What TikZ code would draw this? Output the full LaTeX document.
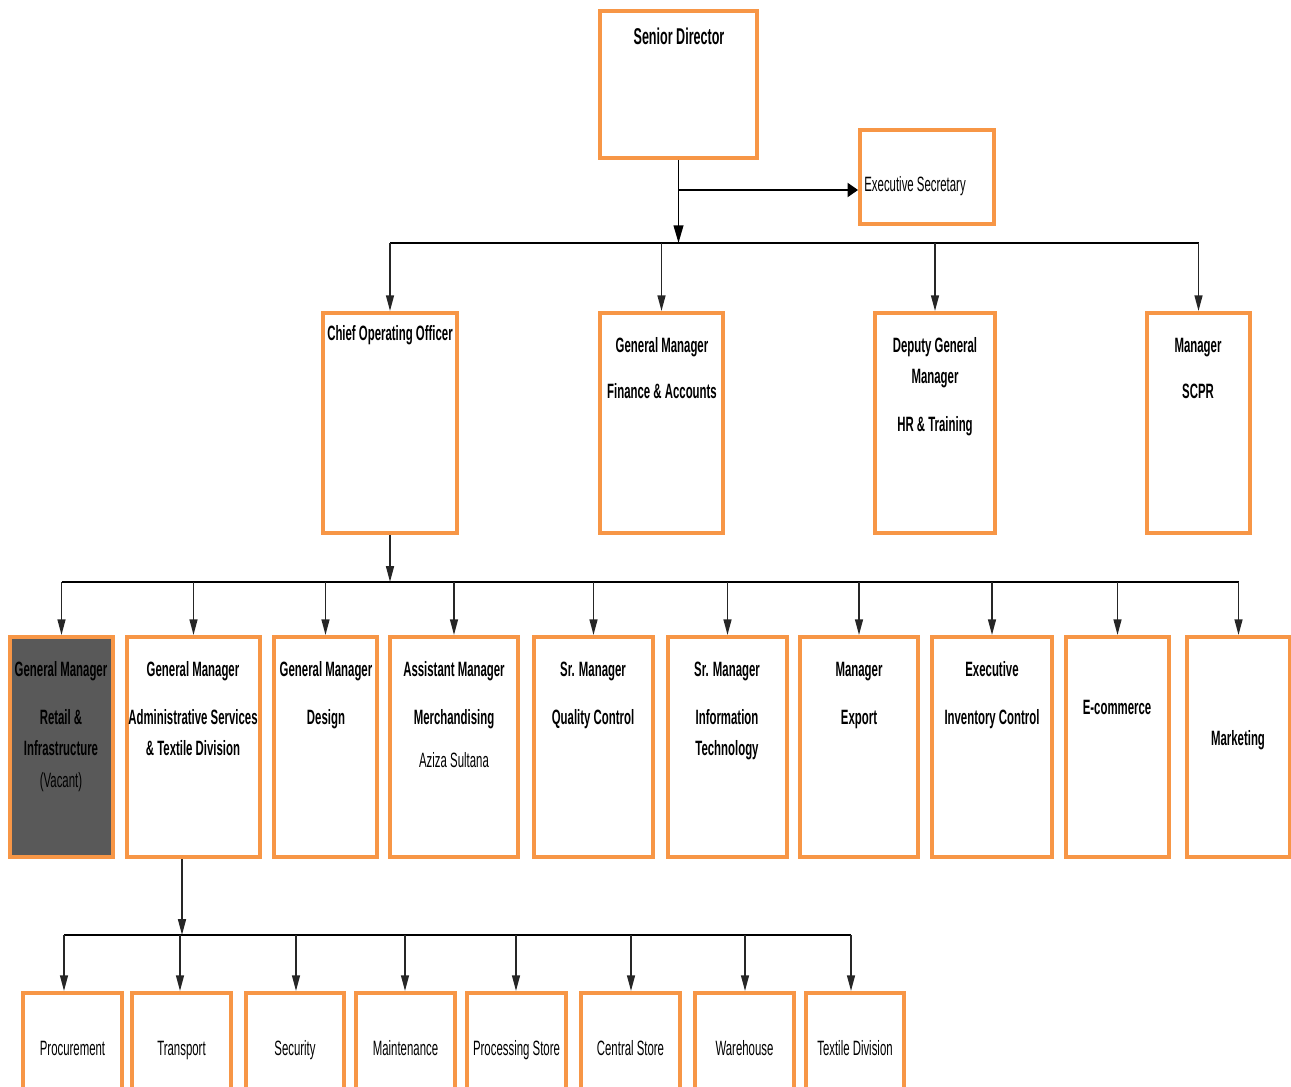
\documentclass[tikz,border=0pt]{standalone}
\usepackage{fontspec}
\setmainfont[FakeStretch=0.55]{Liberation Sans}
\usetikzlibrary{arrows.meta,fit}
\definecolor{borange}{HTML}{F79646}
\definecolor{darkbox}{HTML}{595959}
\begin{document}
\begin{tikzpicture}[x=0.02cm,y=-0.02cm,
  box/.style={draw=borange, line width=2.2pt, fill=white, inner sep=0pt},
  darkb/.style={box, fill=darkbox},
  lbl/.style={inner sep=0pt, yshift=-1.6pt, text height=0.75em, text depth=0.2em, font=\fontsize{11.8}{14}\selectfont\bfseries},
  lblr/.style={lbl, font=\fontsize{11.8}{14}\selectfont},
  bus/.style={line width=1.7pt, black},
  drop/.style={line width=1pt, black!85, -{Triangle[length=9pt,width=4.5pt]}},
]
\useasboundingbox (0,0) rectangle (1291,1087);
\clip (0,0) rectangle (1291,1087);
% ---------- boxes ----------
\node[box, fit={(600,11) (757,158)}] (sd) {};
\node[box, fit={(860,130) (994,224)}] (es) {};
\node[box, fit={(323,313) (457,533)}] (coo) {};
\node[box, fit={(600,313) (723,533)}] (gmf) {};
\node[box, fit={(875,313) (995,533)}] (dgm) {};
\node[box, fit={(1147,313) (1250,533)}] (scpr) {};
\node[darkb, fit={(10,637) (113,857)}] (r1) {};
\node[box, fit={(127,637) (260,857)}] (r2) {};
\node[box, fit={(274,637) (377,857)}] (r3) {};
\node[box, fit={(390,637) (518,857)}] (r4) {};
\node[box, fit={(534,637) (653,857)}] (r5) {};
\node[box, fit={(668,637) (787,857)}] (r6) {};
\node[box, fit={(800,637) (918,857)}] (r7) {};
\node[box, fit={(932,637) (1052,857)}] (r8) {};
\node[box, fit={(1066,637) (1169,857)}] (r9) {};
\node[box, fit={(1187,637) (1290,857)}] (r10) {};
\node[box, fit={(23,993) (122,1100)}] (p1) {};
\node[box, fit={(132,993) (231,1100)}] (p2) {};
\node[box, fit={(246,993) (344,1100)}] (p3) {};
\node[box, fit={(356,993) (455,1100)}] (p4) {};
\node[box, fit={(467,993) (566,1100)}] (p5) {};
\node[box, fit={(581,993) (680,1100)}] (p6) {};
\node[box, fit={(695,993) (794,1100)}] (p7) {};
\node[box, fit={(806,993) (904,1100)}] (p8) {};
% ---------- texts ----------
\node[lbl, font=\fontsize{13}{15}\selectfont\bfseries] (sd-t) at (679,37) {Senior Director};
\node[lblr, anchor=west] (es-t) at (864,184) {Executive Secretary};
\node[lbl] (coo-t) at (390,333) {Chief Operating Officer};
\node[lbl] (gmf-t1) at (662,345) {General Manager};
\node[lbl] (gmf-t2) at (662,391) {Finance \& Accounts};
\node[lbl] (dgm-t1) at (935,345) {Deputy General};
\node[lbl] (dgm-t2) at (935,376) {Manager};
\node[lbl] (dgm-t3) at (935,424) {HR \& Training};
\node[lbl] (scpr-t1) at (1198,345) {Manager};
\node[lbl] (scpr-t2) at (1198,391) {SCPR};
\node[lbl] (r1-t1) at (61,669) {General Manager};
\node[lbl] (r1-t2) at (61,717) {Retail \&};
\node[lbl] (r1-t3) at (61,748) {Infrastructure};
\node[lblr, text=black] (r1-t4) at (61,780) {(Vacant)};
\node[lbl] (r2-t1) at (193,669) {General Manager};
\node[lbl] (r2-t2) at (193,717) {Administrative Services};
\node[lbl] (r2-t3) at (193,748) {\& Textile Division};
\node[lbl] (r3-t1) at (326,669) {General Manager};
\node[lbl] (r3-t2) at (326,717) {Design};
\node[lbl] (r4-t1) at (454,669) {Assistant Manager};
\node[lbl] (r4-t2) at (454,717) {Merchandising};
\node[lblr] (r4-t3) at (454,760) {Aziza Sultana};
\node[lbl] (r5-t1) at (593,669) {Sr. Manager};
\node[lbl] (r5-t2) at (593,717) {Quality Control};
\node[lbl] (r6-t1) at (727,669) {Sr. Manager};
\node[lbl] (r6-t2) at (727,717) {Information};
\node[lbl] (r6-t3) at (727,748) {Technology};
\node[lbl] (r7-t1) at (859,669) {Manager};
\node[lbl] (r7-t2) at (859,717) {Export};
\node[lbl] (r8-t1) at (992,669) {Executive};
\node[lbl] (r8-t2) at (992,717) {Inventory Control};
\node[lbl] (r9-t1) at (1117,707) {E-commerce};
\node[lbl] (r10-t1) at (1238,738) {Marketing};
\node[lblr] (p1-t) at (p1.north |- 0,1048) {Procurement};
\node[lblr] (p2-t) at (p2.north |- 0,1048) {Transport};
\node[lblr] (p3-t) at (p3.north |- 0,1048) {Security};
\node[lblr] (p4-t) at (p4.north |- 0,1048) {Maintenance};
\node[lblr] (p5-t) at (p5.north |- 0,1048) {Processing Store};
\node[lblr] (p6-t) at (p6.north |- 0,1048) {Central Store};
\node[lblr] (p7-t) at (p7.north |- 0,1048) {Warehouse};
\node[lblr] (p8-t) at (p8.north |- 0,1048) {Textile Division};
% ---------- connectors ----------
\coordinate (b1) at (0,243);
\coordinate (esy) at (0,190);
\coordinate (b2) at (0,582);
\coordinate (b3a) at (182,935);
\coordinate (d1) at (64,935);
\coordinate (d2) at (180,935);
\coordinate (d3) at (296,935);
\coordinate (d4) at (405,935);
\coordinate (d5) at (516,935);
\coordinate (d6) at (631,935);
\coordinate (d7) at (745,935);
\coordinate (d8) at (851,935);
\draw[line width=1pt, -{Triangle[length=10pt,width=5.5pt]}] (sd.south) -- (sd.south |- b1);
\draw[line width=1.2pt, -{Triangle[length=6pt,width=8pt]}] (sd.south |- esy) -- (es.west |- esy);
\draw[bus] (coo.north |- b1) -- (scpr.north |- b1);
\foreach \n in {coo,gmf,dgm,scpr} \draw[drop] (\n.north |- b1) -- (\n.north);
\draw[drop] (coo.south) -- (coo.south |- b2);
\draw[bus] (r1.north |- b2) -- (r10.north |- b2);
\foreach \n in {r1,r2,r3,r4,r5,r6,r7,r8,r9,r10} \draw[drop] (\n.north |- b2) -- (\n.north);
\draw[drop] (b3a |- r2.south) -- (b3a);
\draw[bus] (d1) -- (d8);
\foreach \i in {1,...,8} \draw[drop] (d\i) -- (d\i |- p\i.north);
\end{tikzpicture}
\end{document}
